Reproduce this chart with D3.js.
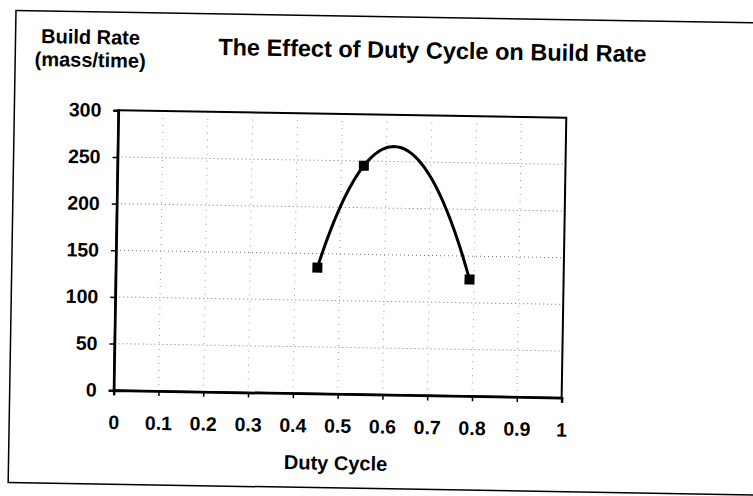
<!DOCTYPE html>
<html>
<head>
<meta charset="utf-8">
<script src="https://cdn.jsdelivr.net/npm/d3@7"></script>
<style>
  html, body { margin: 0; padding: 0; background: #fff; }
  svg text { font-family: "Liberation Sans", Arial, sans-serif; font-weight: bold; fill: #000; }
</style>
</head>
<body>
<div id="chart"></div>
<script>
//////// DATA ////////
var dutyCycle = [0.45, 0.55, 0.79];
var buildRate = [135, 245, 125];
var xTicks = [0, 0.1, 0.2, 0.3, 0.4, 0.5, 0.6, 0.7, 0.8, 0.9, 1];
var yTicks = [0, 50, 100, 150, 200, 250, 300];
var chartTitle = "The Effect of Duty Cycle on Build Rate";
var yTitle = ["Build Rate", "(mass/time)"];
var xTitle = "Duty Cycle";

//////// CANVAS ////////
var outerWidth = 753, outerHeight = 496;
var plot = {left: 116, top: 114, right: 564, bottom: 394};

var svg = d3.select("#chart").append("svg")
    .attr("width", outerWidth)
    .attr("height", outerHeight);

// the scan is a little crooked, so tilt everything together
var page = svg.append("g")
    .attr("transform", "rotate(0.95,340,254)");

//////// SCALES ////////
var xScale = d3.scaleLinear().domain([0, 1]).range([plot.left, plot.right]);
var yScale = d3.scaleLinear().domain([0, 300]).range([plot.bottom, plot.top]);

// outer frame
page.append("rect")
    .attr("x", 12).attr("y", 16)
    .attr("width", 800).attr("height", 472)
    .attr("fill", "none")
    .attr("stroke", "#000")
    .attr("stroke-width", 1.5);

// gridlines
page.append("g").selectAll("line")
    .data(yTicks.slice(1, -1))
    .enter().append("line")
    .attr("x1", plot.left).attr("x2", plot.right)
    .attr("y1", function(d) { return yScale(d); })
    .attr("y2", function(d) { return yScale(d); })
    .attr("stroke", "#777")
    .attr("stroke-dasharray", "1,3");

page.append("g").selectAll("line")
    .data(xTicks.slice(1, -1))
    .enter().append("line")
    .attr("y1", plot.top).attr("y2", plot.bottom)
    .attr("x1", function(d) { return xScale(d); })
    .attr("x2", function(d) { return xScale(d); })
    .attr("stroke", "#999")
    .attr("stroke-dasharray", "1,6");

// plot frame
page.append("rect")
    .attr("x", plot.left).attr("y", plot.top)
    .attr("width", plot.right - plot.left)
    .attr("height", plot.bottom - plot.top)
    .attr("fill", "none")
    .attr("stroke", "#000")
    .attr("stroke-width", 2);

//////// AXES ////////
var xAxis = page.append("g")
    .attr("transform", "translate(0," + plot.bottom + ")")
    .call(d3.axisBottom(xScale).tickValues(xTicks)
        .tickFormat(function(d) { return d3.format("")(+d.toFixed(1)); })
        .tickSize(5).tickPadding(20));

var yAxis = page.append("g")
    .attr("transform", "translate(" + plot.left + ",0)")
    .call(d3.axisLeft(yScale).tickValues(yTicks).tickSize(5).tickPadding(12));

page.selectAll(".domain").attr("stroke-width", 2.5);
page.selectAll(".tick line").attr("stroke-width", 1.5);
page.selectAll(".tick text")
    .attr("font-size", "19.5px")
    .attr("font-family", "Liberation Sans, Arial, sans-serif")
    .attr("font-weight", "bold")
    .attr("fill", "#000");

//////// TRENDLINE (2nd order polynomial through the points) ////////
function quadAt(x) {
    var y = 0;
    for (var i = 0; i < 3; i++) {
        var term = buildRate[i];
        for (var j = 0; j < 3; j++) {
            if (j !== i) term *= (x - dutyCycle[j]) / (dutyCycle[i] - dutyCycle[j]);
        }
        y += term;
    }
    return y;
}
var xLo = d3.min(dutyCycle), xHi = d3.max(dutyCycle);
var trend = d3.range(0, 81).map(function(k) {
    var x = xLo + (xHi - xLo) * k / 80;
    return [x, quadAt(x)];
});

page.append("path")
    .datum(trend)
    .attr("fill", "none")
    .attr("stroke", "#000")
    .attr("stroke-width", 3)
    .attr("d", d3.line()
        .x(function(d) { return xScale(d[0]); })
        .y(function(d) { return yScale(d[1]); }));

// markers
page.append("g").selectAll("rect")
    .data(dutyCycle)
    .enter().append("rect")
    .attr("x", function(d) { return xScale(d) - 5; })
    .attr("y", function(d, i) { return yScale(buildRate[i]) - 5; })
    .attr("width", 10).attr("height", 10)
    .attr("fill", "#000");

//////// TEXT ////////
page.append("text")
    .attr("x", 429).attr("y", 57)
    .attr("text-anchor", "middle")
    .attr("font-size", "23.5px")
    .text(chartTitle);

page.append("text")
    .attr("x", 87).attr("y", 48)
    .attr("text-anchor", "middle")
    .attr("font-size", "20px")
    .text(yTitle[0]);

page.append("text")
    .attr("x", 87).attr("y", 71)
    .attr("text-anchor", "middle")
    .attr("font-size", "20px")
    .text(yTitle[1]);

page.append("text")
    .attr("x", 339).attr("y", 470)
    .attr("text-anchor", "middle")
    .attr("font-size", "20px")
    .text(xTitle);
</script>
</body>
</html>
